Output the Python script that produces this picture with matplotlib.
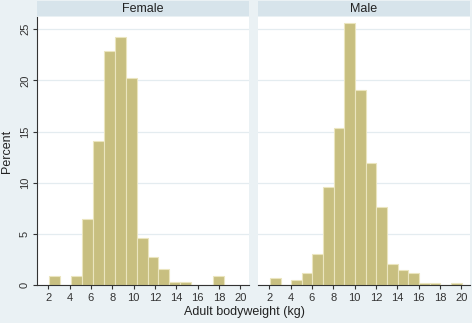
import numpy as np
import matplotlib
matplotlib.use("Agg")
import matplotlib.pyplot as plt

plt.rcParams["font.family"] = ["Liberation Sans", "DejaVu Sans"]

# histogram bins (kg) and percent per bin
female_bin_start = 2.1
female_bin_width = 1.022
female_pct = [0.92, 0, 0.92, 6.44, 14.05, 22.9, 24.2, 20.2, 4.58, 2.75,
              1.54, 0.29, 0.29, 0, 0, 0.92]

male_bin_start = 2.06
male_bin_width = 0.998
male_pct = [0.72, 0, 0.46, 1.18, 3.07, 9.54, 15.3, 25.6, 19.1, 11.9,
            7.6, 2.1, 1.44, 1.18, 0.23, 0.23, 0, 0.23]

panels = ["Female", "Male"]
x_ticks = [2, 4, 6, 8, 10, 12, 14, 16, 18, 20]
y_ticks = [0, 5, 10, 15, 20, 25]

W, H = 472, 323
bg = "#eaf1f4"
strip_col = "#d7e4eb"
bar_col = "#c8bf80"
bar_edge = "#ebe5bf"
grid_col = "#e4ecf0"

fig = plt.figure(figsize=(W / 100, H / 100), dpi=100, facecolor=bg)


def px_rect(x0, y0, x1, y1):
    return [x0 / W, 1 - y1 / H, (x1 - x0) / W, (y1 - y0) / H]


panel_px = [(37, 249), (258, 470)]
series = [(female_bin_start, female_bin_width, female_pct),
          (male_bin_start, male_bin_width, male_pct)]

for i, (name, (x0, x1), (start, width, pct)) in enumerate(zip(panels, panel_px, series)):
    ax = fig.add_axes(px_rect(x0, 17, x1, 285))
    ax.set_facecolor("white")
    lefts = start + width * np.arange(len(pct))
    ax.bar(lefts, pct, width=width, align="edge", color=bar_col,
           edgecolor=bar_edge, linewidth=0.8, zorder=2)
    ax.set_xlim(0.95, 20.8)
    ax.set_ylim(0, 26.2)
    ax.set_yticks(y_ticks)
    ax.set_xticks(x_ticks)
    ax.grid(axis="y", color=grid_col, linewidth=0.9, zorder=0)
    for s in ["top", "right"]:
        ax.spines[s].set_visible(False)
    ax.spines["bottom"].set_color("#333333")
    ax.spines["bottom"].set_linewidth(0.8)
    ax.tick_params(axis="x", labelsize=8, colors="#333333", length=3,
                   width=0.8, pad=2.5)
    if i == 0:
        ax.spines["left"].set_color("#333333")
        ax.spines["left"].set_linewidth(0.8)
        ax.tick_params(axis="y", labelsize=8, colors="#333333", length=3,
                       width=0.8, pad=2)
        for lab in ax.get_yticklabels():
            lab.set_rotation(90)
            lab.set_va("center")
        ax.set_ylabel("Percent", fontsize=9, color="#222222", labelpad=5)
    else:
        ax.spines["left"].set_visible(False)
        ax.tick_params(axis="y", left=False, labelleft=False)

    # title strip
    sx = fig.add_axes(px_rect(x0, 1, x1, 16))
    sx.set_facecolor(strip_col)
    sx.set_xticks([])
    sx.set_yticks([])
    for s in sx.spines.values():
        s.set_visible(False)
    sx.text(0.5, 0.45, name, ha="center", va="center", fontsize=9,
            color="#222222", transform=sx.transAxes)

fig.text(244 / W, 1 - 312 / H, "Adult bodyweight (kg)", ha="center",
         va="center", fontsize=9, color="#222222")

fig.savefig("out.png", dpi=100, facecolor=bg)
